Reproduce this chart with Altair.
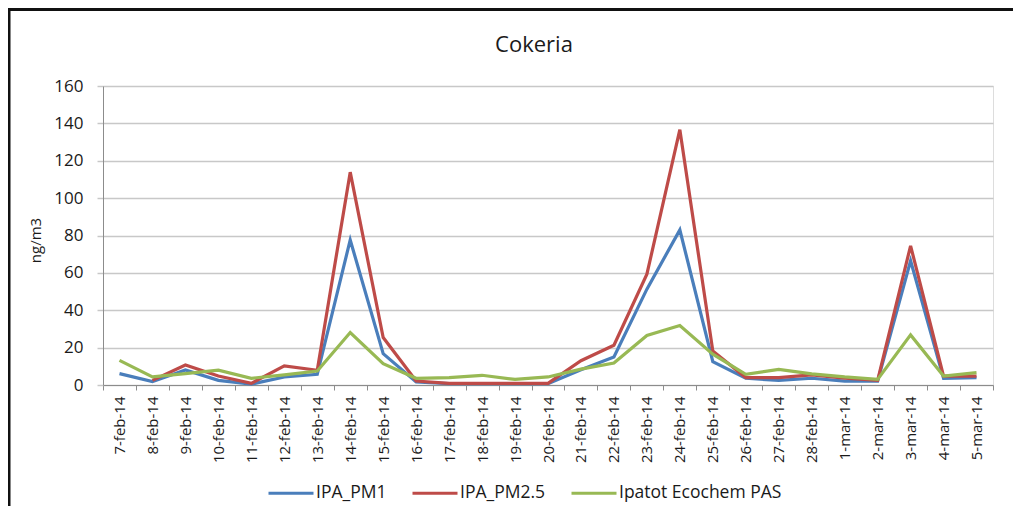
import altair as alt
import pandas as pd

dates = ["7-feb-14", "8-feb-14", "9-feb-14", "10-feb-14", "11-feb-14", "12-feb-14",
         "13-feb-14", "14-feb-14", "15-feb-14", "16-feb-14", "17-feb-14", "18-feb-14",
         "19-feb-14", "20-feb-14", "21-feb-14", "22-feb-14", "23-feb-14", "24-feb-14",
         "25-feb-14", "26-feb-14", "27-feb-14", "28-feb-14", "1-mar-14", "2-mar-14",
         "3-mar-14", "4-mar-14", "5-mar-14"]

pm1 = [6.1, 1.8, 8.0, 2.5, 0.5, 4.3, 5.7, 77.6, 16.8, 1.6, 0.7, 0.7, 0.7, 0.7,
       8.2, 15.0, 51.3, 83.0, 12.5, 3.6, 2.5, 3.6, 2.1, 2.0, 66.5, 3.6, 3.9]
pm25 = [None, 2.5, 10.7, 4.8, 0.9, 10.2, 7.9, 113.9, 25.4, 2.1, 0.9, 0.9, 0.9, 0.9,
        13.0, 21.3, 59.3, 136.6, 18.2, 4.0, 4.0, 5.4, 3.6, 2.5, 74.5, 4.8, 4.8]
pas = [13.2, 4.3, 6.1, 7.9, 3.6, 5.4, 7.5, 28.1, 11.4, 3.6, 3.9, 5.2, 3.0, 4.3,
       8.5, 11.8, 26.5, 31.8, 16.5, 5.7, 8.4, 6.0, 4.3, 3.0, 26.8, 4.8, 6.6]

series_names = ["IPA_PM1", "IPA_PM2.5", "Ipatot Ecochem PAS"]
series_colors = ["#4A7EBB", "#BE4B48", "#98B954"]
chart_title = "Cokeria"

rows = []
for name, vals in zip(series_names, [pm1, pm25, pas]):
    for d, v in zip(dates, vals):
        rows.append({"date": d, "value": v, "series": name})
df = pd.DataFrame(rows)

FONT = "Open Sans"
W, H = 890, 299

lines = alt.Chart(df).mark_line(strokeWidth=3.2).encode(
    x=alt.X("date:N", sort=dates, bandPosition=0.5,
            scale=alt.Scale(type="band", domain=dates, paddingInner=0, paddingOuter=0),
            axis=alt.Axis(title=None, labelAngle=-90, tickBand="extent",
                          labelFont=FONT, labelFontSize=15, labelColor="#1a1a1a",
                          labelPadding=6, domainColor="#8c8c8c", tickColor="#8c8c8c",
                          tickSize=5, grid=False, labelAlign="right",
                          labelBaseline="middle")),
    y=alt.Y("value:Q", scale=alt.Scale(domain=[0, 160], nice=False),
            axis=alt.Axis(title="ng/m3", values=list(range(0, 161, 20)),
                          labelFont=FONT, labelFontSize=17, labelColor="#1a1a1a",
                          labelPadding=14, domainColor="#8c8c8c",
                          tickColor="#c8c8c8", tickSize=6, tickWidth=1.5,
                          gridColor="#c8c8c8", gridWidth=1.5,
                          titleFont=FONT, titleFontSize=15, titleFontWeight="normal",
                          titleColor="#1a1a1a", titleX=-68, titleY=154,
                          titleAlign="center", titleBaseline="middle", titleAngle=270)),
    color=alt.Color("series:N", sort=series_names,
                    scale=alt.Scale(domain=series_names, range=series_colors),
                    legend=alt.Legend(title=None, orient="none", direction="horizontal",
                                      legendX=164, legendY=383,
                                      symbolType="stroke", symbolSize=2025,
                                      symbolStrokeWidth=3, labelFont=FONT,
                                      labelFontSize=17.5, labelColor="#1a1a1a",
                                      labelLimit=400,
                                      labelOffset=1, columnPadding=19)),
)

title_df = pd.DataFrame({"t": [chart_title]})
title = alt.Chart(title_df).mark_text(font=FONT, fontSize=22, color="#1a1a1a",
                                      align="center", baseline="middle").encode(
    text="t:N", x=alt.value(431), y=alt.value(-41))

border_top = alt.Chart(title_df).mark_rule(color="#111", strokeWidth=3).encode(
    x=alt.value(-95), x2=alt.value(W + 30), y=alt.value(-76.5))
border_left = alt.Chart(title_df).mark_rule(color="#111", strokeWidth=3).encode(
    x=alt.value(-94), y=alt.value(-78), y2=alt.value(H + 130))

chart = alt.layer(lines, title, border_top, border_left).properties(
    width=W, height=H,
    autosize=alt.AutoSizeParams(type="none"),
    padding={"left": 95, "top": 78, "right": 20, "bottom": 121},
).configure_view(stroke=None).configure(background="white")

chart.save("out.html", embed_options={"renderer": "svg", "actions": False})
